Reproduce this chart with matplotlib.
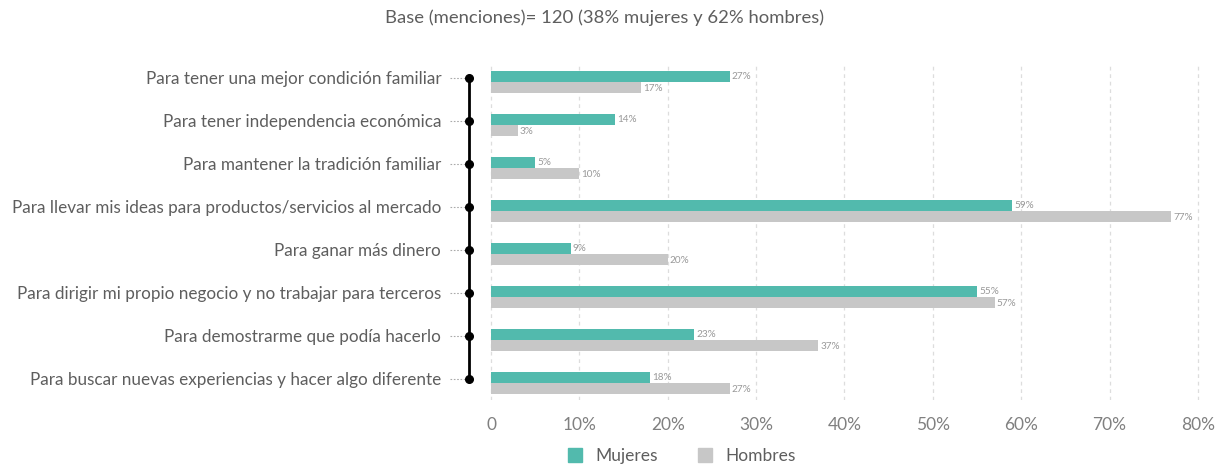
import matplotlib
matplotlib.use("Agg")
import matplotlib.pyplot as plt
from matplotlib.patches import Patch
import numpy as np

categories = [
    "Para tener una mejor condición familiar",
    "Para tener independencia económica",
    "Para mantener la tradición familiar",
    "Para llevar mis ideas para productos/servicios al mercado",
    "Para ganar más dinero",
    "Para dirigir mi propio negocio y no trabajar para terceros",
    "Para demostrarme que podía hacerlo",
    "Para buscar nuevas experiencias y hacer algo diferente",
]
mujeres = [27, 14, 5, 59, 9, 55, 23, 18]
hombres = [17, 3, 10, 77, 20, 57, 37, 27]
xticks = [0, 10, 20, 30, 40, 50, 60, 70, 80]
xticklabels = ["0", "10%", "20%", "30%", "40%", "50%", "60%", "70%", "80%"]
title = "Base (menciones)= 120 (38% mujeres y 62% hombres)"

TEAL = "#52BAAD"
GRAY = "#C7C7C7"
TXT = "#5E5E5E"
FONT = "Lato"

W, H = 1225, 466
fig = plt.figure(figsize=(W / 100, H / 100), dpi=100)
ax = fig.add_axes([469 / W, 1 - 400 / H, (1205 - 469) / W, (400 - 65) / H])

y = np.arange(len(categories))
bh = 0.25
ax.barh(y - 0.02, mujeres, height=bh, color=TEAL, zorder=3)
ax.barh(y + 0.235, hombres, height=bh, color=GRAY, zorder=3)

for yi, v in zip(y, mujeres):
    ax.text(v + 0.25, yi - 0.02, f"{v}%", fontsize=7.2, color="#999999",
            va="center", ha="left", family=FONT)
for yi, v in zip(y, hombres):
    ax.text(v + 0.25, yi + 0.26, f"{v}%", fontsize=7.2, color="#999999",
            va="center", ha="left", family=FONT)

x0 = -2.49
ax.set_xlim(x0, 80.8)
ax.set_ylim(7.51, -0.28)

for t in xticks:
    ax.axvline(t, color="#DDDDDD", lw=0.9, ls=(0, (3, 3)), zorder=1)

ax.plot([x0, x0], [0.02, 7.02], color="black", lw=2, zorder=4, clip_on=False)
ax.plot([x0] * len(y), y + 0.02, "o", color="black", ms=5.5, zorder=5, clip_on=False)

for yi in y:
    ax.plot([x0 - 2.1, x0 - 0.5], [yi + 0.02, yi + 0.02], color="#AAAAAA",
            lw=0.8, ls=(0, (1.5, 1.5)), clip_on=False)

ax.set_yticks(y + 0.02)
ax.set_yticklabels(categories, fontsize=12.3, color=TXT, family=FONT)
ax.tick_params(axis="y", length=0, pad=20)
ax.set_xticks(xticks)
ax.set_xticklabels(xticklabels, fontsize=12.5, color="#808080", family=FONT)
ax.tick_params(axis="x", length=0, pad=12)

for s in ax.spines.values():
    s.set_visible(False)

fig.text(605 / W, 1 - 18 / H, title, ha="center", va="center", fontsize=13.3,
         color=TXT, family=FONT)

handles = [Patch(color=TEAL, label="Mujeres"), Patch(color=GRAY, label="Hombres")]
leg = fig.legend(handles=handles, loc="center", bbox_to_anchor=(682 / W, 1 - 456 / H),
                 ncol=2, frameon=False, handlelength=0.8, handleheight=0.8,
                 columnspacing=2.3, handletextpad=0.8,
                 prop={"family": FONT, "size": 12.5})
for t in leg.get_texts():
    t.set_color(TXT)

fig.savefig("out.png", dpi=100)
